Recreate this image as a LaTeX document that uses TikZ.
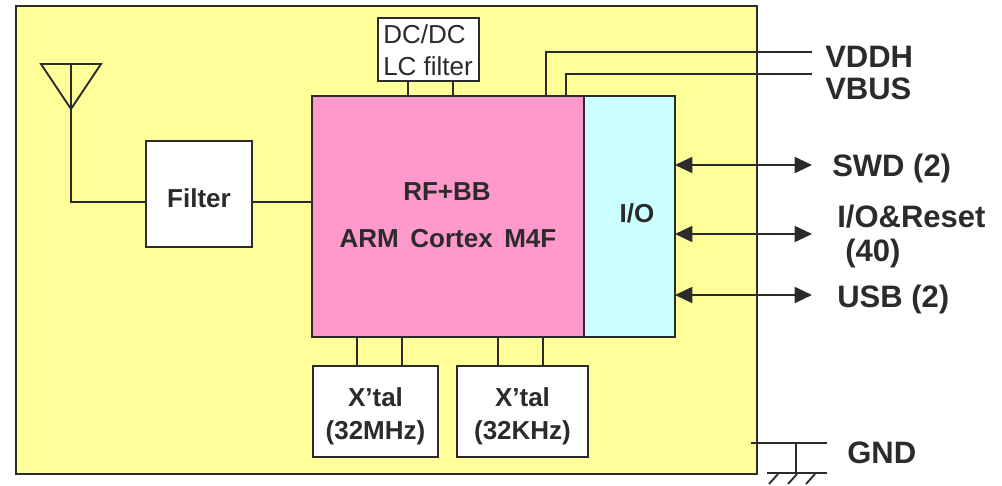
\documentclass[tikz,border=0pt]{standalone}
\usepackage{fontspec}
\setmainfont{Liberation Sans}
\usetikzlibrary{arrows.meta,fit,calc}
\definecolor{ink}{HTML}{2B2B2B}
\definecolor{yel}{HTML}{FFFF99}
\definecolor{pnk}{HTML}{FF99CC}
\definecolor{cyn}{HTML}{CCFFFF}
\tikzset{
  blk/.style={draw=ink, line width=1.4pt, inner sep=0pt, outer sep=0pt},
  wire/.style={draw=ink, line width=1.4pt},
  reg/.style={font=\fontsize{19.5}{23}\selectfont, text=ink, inner sep=0pt, anchor=base west},
  lbl/.style={font=\bfseries\fontsize{19.5}{23}\selectfont, text=ink, inner sep=0pt, anchor=base},
  big/.style={font=\bfseries\fontsize{23.25}{28}\selectfont, text=ink, inner sep=0pt, anchor=base west},
  dbl/.style={wire, {Triangle[length=13pt,width=12pt]}-{Triangle[length=13pt,width=12pt]}}
}
\begin{document}
\begin{tikzpicture}[x=0.75pt,y=-0.75pt]
\useasboundingbox (0,0) rectangle (1002,485);
\fill[white] (0,0) rectangle (1002,485);

% boxes
\node[blk, fill=yel, fit={(16,6)(757,474)}] (module) {};
\node[blk, fill=white, fit={(378,18)(479,81)}] (dcdc) {};
\node[blk, fill=pnk, fit={(312,96)(584,337)}] (rf) {};
\node[blk, fill=cyn, fit={(584,96)(675,337)}] (io) {};
\node[blk, fill=white, fit={(146,141)(252,247)}] (filter) {};
\node[blk, fill=white, fit={(313,366)(438,457)}] (xtalA) {};
\node[blk, fill=white, fit={(457,366)(588,457)}] (xtalB) {};

% texts in boxes
\node[reg] (dct1) at (383,44) {DC/DC};
\node[reg] (dct2) at (383,75) {LC filter};
\node[lbl] (filtt) at (199,207) {Filter};
\node[lbl] (rft1) at (447,200) {RF+BB};
\node[lbl] (rft2) at (448,247) {ARM\, Cortex\, M4F};
\node[lbl] (iot) at (637,222) {I/O};
\node[lbl] (xa1) at (375.5,406) {X’tal};
\node[lbl] (xa2) at (375.5,439) {(32MHz)};
\node[lbl] (xb1) at (522.5,406) {X’tal};
\node[lbl] (xb2) at (522.5,439) {(32KHz)};

% right labels
\node[big] (vddh) at (825,68) {VDDH};
\node[big] (vbus) at (825,99) {VBUS};
\node[big] (swd) at (832,176) {SWD (2)};
\node[big] (ior) at (837,227) {I/O\&Reset};
\node[big] (ior2) at (845,261) {(40)};
\node[big] (usb) at (837,307) {USB (2)};
\node[big] (gnd) at (847,463) {GND};

% antenna
\coordinate (antL) at (41,64);
\coordinate (antR) at (101,64);
\coordinate (antTip) at (71,109);
\coordinate (ant) at (71,64);
\coordinate (feed) at (0,202);
\draw[wire, line join=miter] (antL) -- (antR) -- (antTip) -- cycle;
\draw[wire] (ant) -- (ant |- feed) -- (filter.west |- feed);
\draw[wire] (filter.east |- feed) -- (rf.west |- feed);

% DC/DC pins
\coordinate (p1) at (408,0);
\coordinate (p2) at (453,0);
\draw[wire] (p1 |- dcdc.south) -- (p1 |- rf.north);
\draw[wire] (p2 |- dcdc.south) -- (p2 |- rf.north);

% crystal pins
\coordinate (q1) at (357,0);
\coordinate (q2) at (402,0);
\coordinate (q3) at (498,0);
\coordinate (q4) at (543,0);
\draw[wire] (q1 |- rf.south) -- (q1 |- xtalA.north);
\draw[wire] (q2 |- rf.south) -- (q2 |- xtalA.north);
\draw[wire] (q3 |- rf.south) -- (q3 |- xtalB.north);
\draw[wire] (q4 |- rf.south) -- (q4 |- xtalB.north);

% supply lines
\coordinate (vdC) at (546,52);
\coordinate (vdE) at (812,52);
\coordinate (vbC) at (566,74);
\coordinate (vbE) at (812,74);
\draw[wire] (vdC |- rf.north) -- (vdC) -- (vdE);
\draw[wire] (vbC |- rf.north) -- (vbC) -- (vbE);

% I/O arrows
\coordinate (aS) at (812,165);
\coordinate (aI) at (812,234);
\coordinate (aU) at (812,295);
\draw[dbl] (io.east |- aS) -- (aS);
\draw[dbl] (io.east |- aI) -- (aI);
\draw[dbl] (io.east |- aU) -- (aU);

% ground
\coordinate (g0) at (751,443);
\coordinate (g1) at (827,443);
\coordinate (gs) at (796,443);
\coordinate (gb) at (796,473);
\coordinate (gl) at (767,473);
\coordinate (gr) at (827,473);
\draw[wire] (g0) -- (g1);
\draw[wire] (gs) -- (gb);
\draw[wire] (gl) -- (gr);
\draw[wire] (778,474) -- (769,484);
\draw[wire] (797,474) -- (788,484);
\draw[wire] (815,474) -- (806,484);
\end{tikzpicture}
\end{document}
